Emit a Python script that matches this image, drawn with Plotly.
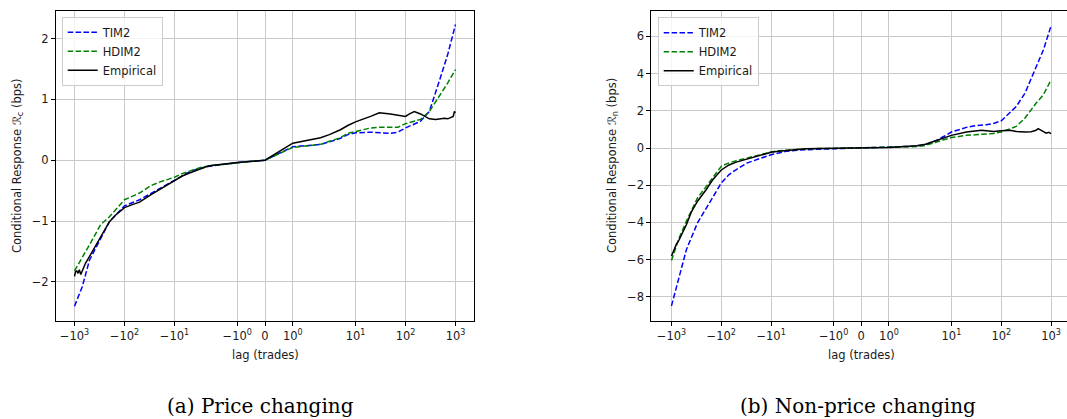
import numpy as np
import plotly.graph_objects as go

# ---------------- data ----------------
lags = [-1000, -700, -500, -300, -200, -100, -70, -50, -30, -20, -10, -7, -5, -3, -2, -1,
        0, 1, 2, 3, 5, 7, 10, 20, 30, 50, 70, 100, 200, 300, 500, 700, 1000]

# (a) Price changing
tim2_price = [-2.40, -2.08, -1.64, -1.28, -1.01, -0.75, -0.70, -0.65, -0.55, -0.47, -0.32, -0.25,
              -0.19, -0.13, -0.10, -0.04,
              0.0, 0.22, 0.26, 0.30, 0.36, 0.42, 0.45, 0.46, 0.45, 0.44, 0.46, 0.53, 0.64, 0.80,
              1.36, 1.74, 2.23]
hdim2_price = [-1.82, -1.61, -1.39, -1.06, -0.93, -0.65, -0.60, -0.54, -0.42, -0.36, -0.28, -0.22,
               -0.18, -0.12, -0.09, -0.04,
               0.0, 0.21, 0.26, 0.31, 0.37, 0.44, 0.47, 0.53, 0.54, 0.54, 0.54, 0.60, 0.67, 0.80,
               1.08, 1.27, 1.49]
emp_lags_price = [-1000, -950, -900, -850, -800, -750, -700, -600, -500, -400, -300, -200, -150,
                  -100, -70, -50, -30, -20, -10, -7, -5, -3, -2, -1,
                  0, 1, 2, 3, 5, 7, 10, 20, 30, 50, 70, 100, 120, 150, 200, 300, 400, 500,
                  600, 700, 800, 900, 950, 1000]
emp_price = [-1.91, -1.83, -1.82, -1.86, -1.80, -1.88, -1.82, -1.69, -1.58, -1.44, -1.25, -1.01,
             -0.90, -0.78, -0.73, -0.69, -0.57, -0.48, -0.34, -0.26, -0.21, -0.14, -0.09, -0.04,
             0.0, 0.28, 0.37, 0.42, 0.50, 0.57, 0.63, 0.72, 0.78, 0.76, 0.74, 0.72, 0.76, 0.80,
             0.76, 0.68, 0.67, 0.68, 0.69, 0.68, 0.70, 0.72, 0.80, 0.78]

# (b) Non-price changing
tim2_nonprice = [-8.49, -6.88, -5.45, -4.02, -3.22, -1.88, -1.43, -1.16, -0.80, -0.63, -0.36, -0.27,
                 -0.18, -0.12, -0.09, -0.04,
                 0.0, 0.02, 0.10, 0.18, 0.40, 0.62, 0.86, 1.11, 1.20, 1.25, 1.32, 1.46, 2.23, 2.95,
                 4.38, 5.27, 6.57]
hdim2_nonprice = [-6.05, -4.83, -3.93, -2.68, -2.06, -0.98, -0.80, -0.68, -0.54, -0.41, -0.21, -0.15,
                  -0.11, -0.06, -0.04, -0.02,
                  0.0, 0.02, 0.08, 0.14, 0.30, 0.44, 0.56, 0.68, 0.71, 0.75, 0.78, 0.86, 1.16, 1.61,
                  2.41, 2.86, 3.66]
emp_lags_nonprice = [-1000, -900, -800, -700, -600, -500, -400, -300, -200, -150, -100, -70, -50,
                     -30, -20, -10, -7, -5, -3, -2, -1,
                     0, 1, 2, 3, 5, 7, 10, 20, 30, 40, 50, 70, 100, 150, 200, 300, 400, 500,
                     550, 600, 700, 800, 900, 1000]
emp_nonprice = [-5.81, -5.49, -5.18, -4.92, -4.56, -4.11, -3.45, -2.86, -2.23, -1.72, -1.18, -0.91,
                -0.76, -0.59, -0.45, -0.23, -0.17, -0.13, -0.08, -0.04, -0.01,
                0.0, 0.03, 0.12, 0.20, 0.40, 0.55, 0.68, 0.86, 0.93, 0.96, 0.93, 0.89, 0.93, 0.95,
                0.89, 0.86, 0.88, 0.95, 1.04, 0.98, 0.86, 0.80, 0.84, 0.77]

x_tick_values = [-1000, -100, -10, -1, 0, 1, 10, 100, 1000]
x_tick_labels = ["−10<sup>3</sup>", "−10<sup>2</sup>", "−10<sup>1</sup>", "−10<sup>0</sup>", "0",
                 "10<sup>0</sup>", "10<sup>1</sup>", "10<sup>2</sup>", "10<sup>3</sup>"]
y_ticks_price = [-2, -1, 0, 1, 2]
y_ticks_nonprice = [-8, -6, -4, -2, 0, 2, 4, 6]

# ---------------- symlog axis (linthresh=2, linscale=1) ----------------
LINTHRESH = 2.0
LINSCALE_ADJ = 1.0 / (1.0 - 1.0 / 10.0)


def symlog(v):
    v = np.asarray(v, dtype=float)
    out = np.where(np.abs(v) <= LINTHRESH, v * LINSCALE_ADJ,
                   np.sign(v) * LINTHRESH * (LINSCALE_ADJ +
                                             np.log10(np.maximum(np.abs(v), 1e-12) / LINTHRESH)))
    return out


def ylab(v):
    return str(v).replace("-", "−")


W, H = 1067, 419
FONT = "DejaVu Sans"
TXT = "#1a1a1a"
GRID = "#c9c9c9"
DASH = "5.5px,2.4px"

fig = go.Figure()

panels = [
    (tim2_price, hdim2_price, emp_lags_price, emp_price, "x", "y", "legend"),
    (tim2_nonprice, hdim2_nonprice, emp_lags_nonprice, emp_nonprice, "x2", "y2", "legend2"),
]
for tim, hdim, elags, emp, xa, ya, lg in panels:
    fig.add_trace(go.Scatter(x=symlog(lags), y=tim, mode="lines", name="TIM2",
                             line=dict(color="#0000ff", width=1.5, dash=DASH),
                             xaxis=xa, yaxis=ya, legend=lg))
    fig.add_trace(go.Scatter(x=symlog(lags), y=hdim, mode="lines", name="HDIM2",
                             line=dict(color="#008000", width=1.5, dash=DASH),
                             xaxis=xa, yaxis=ya, legend=lg))
    fig.add_trace(go.Scatter(x=symlog(elags), y=emp, mode="lines", name="Empirical",
                             line=dict(color="#000000", width=1.5),
                             xaxis=xa, yaxis=ya, legend=lg))

ydom = [(H - 321) / H, (H - 11) / H]
common_x = dict(tickmode="array", tickvals=list(symlog(x_tick_values)), ticktext=x_tick_labels,
                showgrid=True, gridcolor=GRID, gridwidth=1, zeroline=False,
                showline=True, linecolor="black", linewidth=1, mirror=True,
                ticks="outside", ticklen=4, tickwidth=1, tickcolor="black",
                tickfont=dict(family=FONT, size=11.5, color=TXT))
common_y = dict(showgrid=True, gridcolor=GRID, gridwidth=1, zeroline=False,
                showline=True, linecolor="black", linewidth=1,
                ticks="outside", ticklen=4, tickwidth=1, tickcolor="black",
                tickfont=dict(family=FONT, size=11.5, color=TXT), tickmode="array")

legend_common = dict(xanchor="left", yanchor="top", traceorder="normal",
                     bgcolor="rgba(255,255,255,0.8)", bordercolor="#cccccc", borderwidth=1,
                     font=dict(family=FONT, size=11.5, color=TXT))

fig.update_layout(
    width=W, height=H,
    margin=dict(l=0, r=0, t=0, b=0),
    paper_bgcolor="white", plot_bgcolor="white",
    xaxis=dict(domain=[56 / W, 474 / W], range=[-8.36, 8.36], anchor="y", **common_x),
    yaxis=dict(domain=ydom, range=[-2.643, 2.452], anchor="x", mirror=True,
               tickvals=y_ticks_price, ticktext=[ylab(v) for v in y_ticks_price], **common_y),
    xaxis2=dict(domain=[651.3 / W, 1.0], range=[-8.43, 8.26], anchor="y2", **common_x),
    yaxis2=dict(domain=ydom, range=[-9.30, 7.366], anchor="x2", mirror=False,
                tickvals=y_ticks_nonprice, ticktext=[ylab(v) for v in y_ticks_nonprice], **common_y),
    legend=dict(x=61.7 / W, y=(H - 16.7) / H, **legend_common),
    legend2=dict(x=657.7 / W, y=(H - 17.3) / H, **legend_common),
    showlegend=True,
)

annots = [
    dict(text="lag (trades)", x=265 / W, y=(H - 355) / H),
    dict(text="lag (trades)", x=861 / W, y=(H - 355) / H),
    dict(text="Conditional Response ℛ<sub>c</sub> (bps)", x=17 / W, y=(H - 166) / H, textangle=-90),
    dict(text="Conditional Response ℛ<sub>n</sub> (bps)", x=612 / W, y=(H - 166) / H, textangle=-90),
]
for a in annots:
    fig.add_annotation(xref="paper", yref="paper", showarrow=False, xanchor="center",
                       yanchor="middle", font=dict(family=FONT, size=11.5, color=TXT), **a)

fig.add_annotation(text="(a) Price changing", x=260 / W, y=(H - 406) / H, xref="paper",
                   yref="paper", showarrow=False, xanchor="center", yanchor="middle",
                   font=dict(family="DejaVu Serif", size=20, color="black"))
fig.add_annotation(text="(b) Non-price changing", x=858 / W, y=(H - 406) / H, xref="paper",
                   yref="paper", showarrow=False, xanchor="center", yanchor="middle",
                   font=dict(family="DejaVu Serif", size=20, color="black"))

fig.write_html("out.html")
